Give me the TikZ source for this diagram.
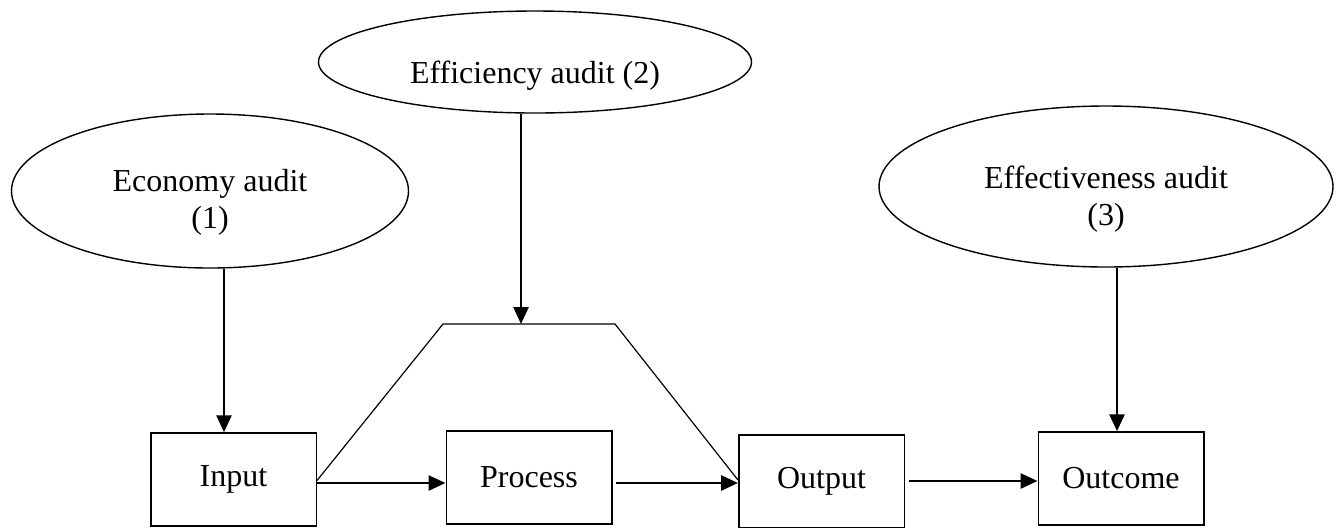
\documentclass[tikz,border=0pt]{standalone}
\usepackage{fontspec}
\setmainfont{Liberation Serif}
\usetikzlibrary{shapes.geometric,arrows.meta,calc}
\begin{document}
\begin{tikzpicture}[x=0.5pt,y=-0.5pt,
  font=\fontsize{16}{18.5}\selectfont,
  oval/.style={ellipse,draw,line width=0.7pt,inner sep=0pt},
  stagebox/.style={rectangle,draw,line width=0.75pt,minimum width=82.75pt,minimum height=46.5pt,inner sep=0pt},
  arr/.style={line width=1.4pt,-{Triangle[length=8.5pt,width=7.5pt]}},
  thinline/.style={line width=0.6pt}]
\fill[white] (0,0) rectangle (1342,527);
\useasboundingbox (0,0) rectangle (1342,527);

% audit ellipses
\node[oval,minimum width=198.5pt,minimum height=77pt] (econ) at (210,191)
  {\raisebox{-5.8pt}[\height][\depth]{\begin{tabular}{@{}c@{}}Economy audit\\(1)\end{tabular}}};
\node[oval,minimum width=216.5pt,minimum height=51pt] (eff) at (535,62)
  {\raisebox{-6.75pt}[\height][\depth]{Efficiency audit (2)}};
\node[oval,minimum width=227pt,minimum height=80.5pt] (effect) at (1106,186.5)
  {\raisebox{-6.5pt}[\height][\depth]{\begin{tabular}{@{}c@{}}Effectiveness audit\\(3)\end{tabular}}};

% stages
\node[stagebox] (in)  at (233.5,479.5) {Input};
\node[stagebox] (pr)  at (529,477.5)   {Process};
\node[stagebox] (out) at (821.5,481.5) {Output};
\node[stagebox] (oc)  at (1121,478.5)  {Outcome};

% trapezoid over the process
\coordinate (tl) at (443,324);
\coordinate (tr) at (615,324);
\coordinate (ta) at (521,324);
\draw[thinline] ($(in.east)+(0,1)$) -- (tl) -- (tr) -- ($(out.west)+(0,-1.5)$);

% vertical arrows
\coordinate (ea) at ($(in.north)+(-9.5,0)$);
\draw[arr] (econ.south -| ea) -- (ea);
\draw[arr] (eff.south -| ta) -- (ta);
\coordinate (fa) at ($(oc.north)+(-4,0)$);
\draw[arr] (effect.south -| fa) -- (fa);

% horizontal arrows
\coordinate (a1) at ($(in.east)+(0,3.5)$);
\draw[arr] (a1) -- (a1 -| pr.west);
\coordinate (a2) at ($(pr.east)+(3,5.5)$);
\draw[arr] (a2) -- (a2 -| out.west);
\coordinate (a3) at ($(out.east)+(4,-0.5)$);
\draw[arr] (a3) -- (a3 -| oc.west);
\end{tikzpicture}
\end{document}
